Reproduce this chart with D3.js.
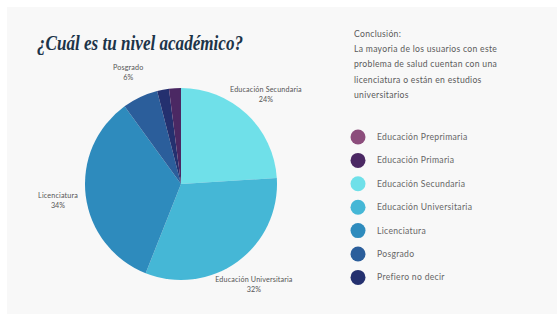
<!DOCTYPE html>
<html><head><meta charset="utf-8">
<script src="https://cdn.jsdelivr.net/npm/d3@7/dist/d3.min.js"></script>
<style>body{margin:0;background:#fff;}svg{display:block;}</style>
</head><body>
<script>
const categories = ["Educación Preprimaria","Educación Primaria","Educación Secundaria","Educación Universitaria","Licenciatura","Posgrado","Prefiero no decir"];
const values = [0, 2, 24, 32, 34, 6, 2];
const colors = ["#8c4d7c","#4b2863","#6fe0e9","#45b7d6","#2e8bbd","#2b5e9b","#24306f"];
const pieOrder = ["Educación Secundaria","Educación Universitaria","Licenciatura","Posgrado","Prefiero no decir","Educación Primaria","Educación Preprimaria"];
const labelled = ["Educación Secundaria","Educación Universitaria","Licenciatura","Posgrado"];
const title = "¿Cuál es tu nivel académico?";
const conclusion = ["Conclusión:","La mayoria de los usuarios con este","problema de salud cuentan con una","licenciatura o están en estudios","universitarios"];

const W = 557, H = 316;
const svg = d3.select("body").append("svg").attr("width", W).attr("height", H);
svg.append("rect").attr("x",7).attr("y",7).attr("width",W-7).attr("height",H-9).attr("fill","#f8f8f8");

svg.append("text").attr("x",37).attr("y",50).text(title)
  .attr("font-family","'Liberation Serif', serif").attr("font-style","italic").attr("font-weight","bold")
  .attr("font-size",20).attr("fill","#1c3449")
  .attr("textLength",206).attr("lengthAdjust","spacingAndGlyphs");

const data = pieOrder.map(c => ({cat:c, value: values[categories.indexOf(c)], color: colors[categories.indexOf(c)]}));
const pie = d3.pie().sort(null).value(d=>d.value);
const arcs = pie(data);
const cx = 181, cy = 184, r = 96;
const g = svg.append("g").attr("transform",`translate(${cx},${cy})`);
const arc = d3.arc().innerRadius(0).outerRadius(r);
g.selectAll("path").data(arcs).join("path").attr("d",arc).attr("fill",d=>d.data.color);

const labelArc = d3.arc().innerRadius(124).outerRadius(124);
const lab = g.selectAll("g.lab").data(arcs.filter(d=>labelled.includes(d.data.cat))).join("g")
  .attr("transform",d=>{const [x,y]=labelArc.centroid(d);return `translate(${x},${y})`;});
lab.append("text").attr("text-anchor","middle").attr("y",-2)
  .attr("font-family","Lato, sans-serif").attr("font-size",7.2).attr("fill","#555")
  .attr("letter-spacing",0.15)
  .text(d=>d.data.cat);
lab.append("text").attr("text-anchor","middle").attr("y",8)
  .attr("font-family","Lato, sans-serif").attr("font-size",7.2).attr("fill","#555")
  .text(d=>Math.round(d.value/d3.sum(values)*100)+"%");

svg.append("g").selectAll("text").data(conclusion).join("text")
  .attr("x",354).attr("y",(d,i)=>37+i*15.2).text(d=>d)
  .attr("font-family","Lato, sans-serif").attr("font-size",8.6).attr("fill","#5a5a5a")
  .attr("letter-spacing",0.3);

const leg = svg.append("g").selectAll("g").data(categories).join("g")
  .attr("transform",(d,i)=>`translate(358,${137+i*23.4})`);
leg.append("circle").attr("r",7.5).attr("fill",(d,i)=>colors[i]);
leg.append("text").attr("x",19).attr("y",3).text(d=>d)
  .attr("font-family","Lato, sans-serif").attr("font-size",8.6).attr("fill","#666")
  .attr("letter-spacing",0.3);
</script>
</body></html>
